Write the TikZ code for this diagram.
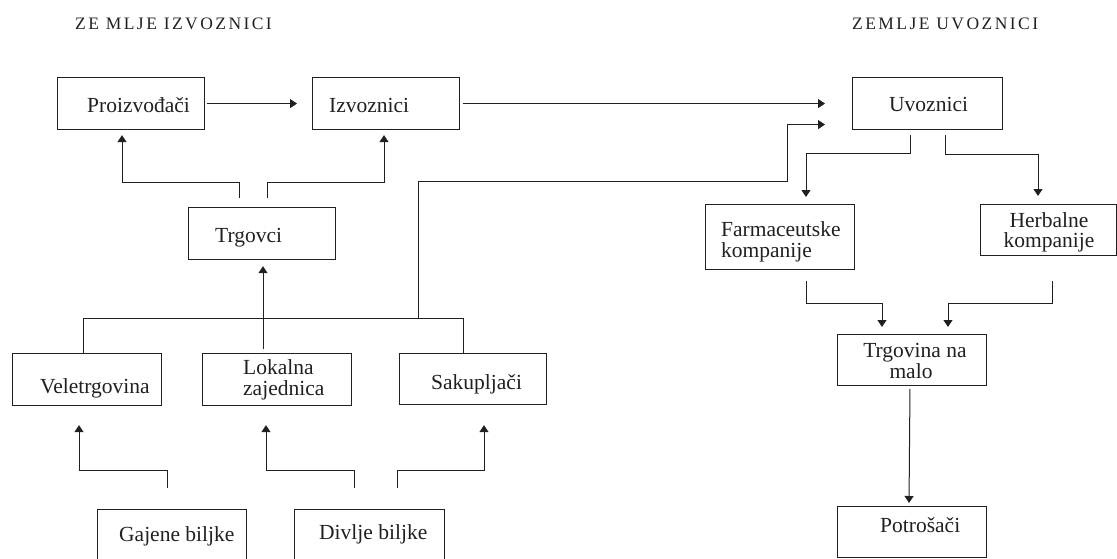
\documentclass[tikz,border=0pt]{standalone}
\usepackage{fontspec}
\setmainfont{Liberation Serif}
\usetikzlibrary{arrows.meta}
\definecolor{ink}{RGB}{35,31,32}
\begin{document}
\begin{tikzpicture}[x=1pt, y=-1pt, color=ink,
  box/.style={draw, line width=1.1pt, anchor=north west, inner sep=0pt},
  conn/.style={line width=1pt},
  arr/.style={conn, -{Triangle[length=7pt,width=9pt]}},
  lbl/.style={anchor=base west, inner sep=0pt, font=\fontsize{21.5}{21}\selectfont},
  lblc/.style={anchor=base, inner sep=0pt, font=\fontsize{21.5}{21}\selectfont},
  head/.style={anchor=base west, inner sep=0pt, font=\fontsize{17.5}{20}\selectfont\addfontfeature{LetterSpace=14}}]
\useasboundingbox (0,0) rectangle (1117,558);
\clip (0,0) rectangle (1117,558);

% headings
\node[head] (hexp) at (75,29) {ZE MLJE IZVOZNICI};
\node[head] (himp) at (852,29) {ZEMLJE UVOZNICI};

% boxes
\node[box, minimum width=147pt, minimum height=52pt] (proiz) at (57,77) {};
\node[box, minimum width=147pt, minimum height=52pt] (izv) at (312,77) {};
\node[box, minimum width=150pt, minimum height=52pt] (uvoz) at (852,77) {};
\node[box, minimum width=147pt, minimum height=52pt] (trg) at (188,207) {};
\node[box, minimum width=149pt, minimum height=65pt] (farm) at (705,204) {};
\node[box, minimum width=136pt, minimum height=51pt] (herb) at (980,204) {};
\node[box, minimum width=149pt, minimum height=52pt] (vel) at (12,353) {};
\node[box, minimum width=149pt, minimum height=52pt] (lok) at (202,353) {};
\node[box, minimum width=147pt, minimum height=51pt] (sak) at (399,353) {};
\node[box, minimum width=149pt, minimum height=51pt] (tmal) at (837,334) {};
\node[box, minimum width=149pt, minimum height=51pt] (pot) at (837,506) {};
\node[box, minimum width=149pt, minimum height=80pt] (gaj) at (97,509) {};
\node[box, minimum width=150pt, minimum height=80pt] (div) at (294,509) {};

% box texts
\node[lbl] (t-proiz) at (87,112) {Proizvođači};
\node[lbl] (t-izv) at (329,112) {Izvoznici};
\node[lbl] (t-uvoz) at (889,111) {Uvoznici};
\node[lbl] (t-trg) at (215,242) {Trgovci};
\node[lbl] (t-farm1) at (721,236) {Farmaceutske};
\node[lbl] (t-farm2) at (721,257) {kompanije};
\node[lblc] (t-herb1) at (1049,227) {Herbalne};
\node[lblc] (t-herb2) at (1049,247) {kompanije};
\node[lbl] (t-vel) at (40,393) {Veletrgovina};
\node[lbl] (t-lok1) at (243,374) {Lokalna};
\node[lbl] (t-lok2) at (243,395) {zajednica};
\node[lbl] (t-sak) at (431,389) {Sakupljači};
\node[lblc] (t-tmal1) at (915,357) {Trgovina na};
\node[lblc] (t-tmal2) at (911,378) {malo};
\node[lbl] (t-pot) at (880,532) {Potrošači};
\node[lbl] (t-gaj) at (119,541) {Gajene biljke};
\node[lbl] (t-div) at (319,539) {Divlje biljke};

% exporting side
\draw[arr, shorten <=2pt, shorten >=15pt] (proiz.east) -- (izv.west);
\draw[arr, shorten <=3pt, shorten >=27pt] (izv.east) -- (uvoz.west);
\draw[arr, shorten <=9pt, shorten >=5pt] ([xshift=51pt]trg.north west) |- ([xshift=65pt,yshift=-52pt]proiz.south west) -- ([xshift=65pt]proiz.south west);
\draw[arr, shorten <=9pt, shorten >=5pt] ([xshift=79pt]trg.north west) |- ([xshift=72pt,yshift=-52pt]izv.south west) -- ([xshift=72pt]izv.south west);
\draw[arr, shorten <=4pt, shorten >=6pt] ([xshift=61pt]lok.north west) -- ([xshift=75pt]trg.south west);

% wholesale and collectors straight to importers
\coordinate (bus) at (418,318);
\coordinate (bend) at (787,181);
\draw[conn] ([xshift=71pt]vel.north west) |- ([xshift=64pt,yshift=35pt]sak.north west) -- ([xshift=64pt]sak.north west);
\draw[arr, shorten >=27pt] (bus) |- (bend) |- ([yshift=-21pt]uvoz.west);

% plant sources
\draw[arr, shorten <=21pt, shorten >=19pt] ([xshift=70pt]gaj.north west) |- ([xshift=67pt,yshift=-64pt]vel.south west) -- ([xshift=67pt]vel.south west);
\draw[arr, shorten <=21pt, shorten >=19pt] ([xshift=60pt]div.north west) |- ([xshift=64pt,yshift=-64pt]lok.south west) -- ([xshift=64pt]lok.south west);
\draw[arr, shorten <=21pt, shorten >=20pt] ([xshift=103pt]div.north west) |- ([xshift=85pt,yshift=-65pt]sak.south west) -- ([xshift=85pt]sak.south west);

% importing side
\draw[arr, shorten <=5pt, shorten >=7pt] ([xshift=58pt]uvoz.south west) |- ([xshift=101pt,yshift=51pt]farm.north west) -- ([xshift=101pt]farm.north west);
\draw[arr, shorten <=5pt, shorten >=8pt] ([xshift=93pt]uvoz.south west) |- ([xshift=58pt,yshift=50pt]herb.north west) -- ([xshift=58pt]herb.north west);
\draw[arr, shorten <=11pt, shorten >=7pt] ([xshift=101pt]farm.south west) |- ([xshift=45pt,yshift=31pt]tmal.north west) -- ([xshift=45pt]tmal.north west);
\draw[arr, shorten <=25pt, shorten >=7pt] ([xshift=72pt]herb.south west) |- ([xshift=111pt,yshift=31pt]tmal.north west) -- ([xshift=111pt]tmal.north west);
\draw[arr, shorten <=3pt, shorten >=3pt] ([xshift=73pt]tmal.south west) -- ([xshift=72pt]pot.north west);
\end{tikzpicture}
\end{document}
